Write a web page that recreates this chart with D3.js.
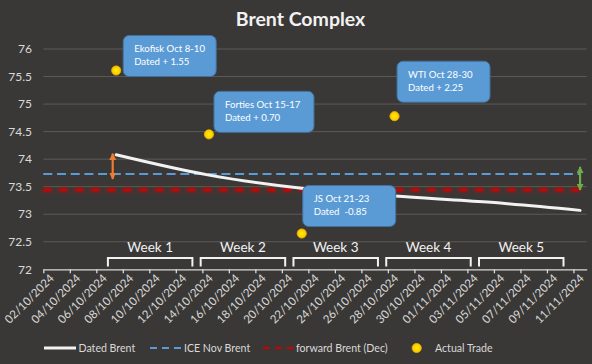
<!DOCTYPE html>
<html>
<head>
<meta charset="utf-8">
<script src="https://cdn.jsdelivr.net/npm/d3@7"></script>
<style>
  body { margin: 0; background: #3a3836; }
  svg text { font-family: Lato, "Liberation Sans", sans-serif; }
</style>
</head>
<body>
<div id="chart"></div>
<script>
// datos del grafico
var datedDates  = ["2024-10-07", "2024-10-14", "2024-10-21", "2024-10-28", "2024-11-04", "2024-11-11"];
var datedValues = [74.08, 73.71, 73.47, 73.33, 73.22, 73.07];

var iceNovBrent     = 73.73;
var forwardBrentDec = 73.44;

var tradeNames  = ["Ekofisk", "Forties", "JS", "WTI"];
var tradeDates  = ["2024-10-07", "2024-10-14", "2024-10-21", "2024-10-28"];
var tradeValues = [75.61, 74.45, 72.65, 74.78];
var tradeLine1  = ["Ekofisk Oct 8-10", "Forties Oct 15-17", "JS Oct 21-23", "WTI Oct 28-30"];
var tradeLine2  = ["Dated + 1.55", "Dated + 0.70", "Dated  -0.85", "Dated + 2.25"];

var weekLabels = ["Week 1", "Week 2", "Week 3", "Week 4", "Week 5"];
var weekStarts = ["2024-10-07", "2024-10-14", "2024-10-21", "2024-10-28", "2024-11-04"];

var yTicks = [72, 72.5, 73, 73.5, 74, 74.5, 75, 75.5, 76];

// spread arrows (date, from, to)
var arrowDates = ["2024-10-07", "2024-11-11"];
var arrowFrom  = [74.10, 73.86];
var arrowTo    = [73.64, 73.44];

var legendNames = ["Dated Brent", "ICE Nov Brent", "forward Brent (Dec)", "Actual Trade"];

var width = 592, height = 364;
var parse = d3.timeParse("%Y-%m-%d");
var noon = function(s){ return d3.timeHour.offset(parse(s), 12); };

var x = d3.scaleTime()
    .domain([parse("2024-10-02"), parse("2024-11-12")])
    .range([43.3, 586.7]);

var y = d3.scaleLinear()
    .domain([72, 76])
    .range([269.3, 49]);

var svg = d3.select("#chart").append("svg")
    .attr("width", width)
    .attr("height", height);

var defs = svg.append("defs");
var glow = defs.append("filter").attr("id", "glow")
    .attr("filterUnits", "userSpaceOnUse")
    .attr("x", 0).attr("y", 0).attr("width", width).attr("height", height);
glow.append("feGaussianBlur").attr("stdDeviation", 2).attr("result", "b");
var fm = glow.append("feMerge");
fm.append("feMergeNode").attr("in", "b");
fm.append("feMergeNode").attr("in", "SourceGraphic");

var grad = defs.append("radialGradient").attr("id", "dot");
grad.append("stop").attr("offset", "0%").attr("stop-color", "#fff200");
grad.append("stop").attr("offset", "100%").attr("stop-color", "#ffc000");

["#ed7d31", "#70ad47"].forEach(function(c, i){
  defs.append("marker").attr("id", "ah" + i)
    .attr("viewBox", "0 0 10 10").attr("refX", 9).attr("refY", 5)
    .attr("markerWidth", 3.2).attr("markerHeight", 3.2)
    .attr("orient", "auto-start-reverse")
    .append("path").attr("d", "M0,0L10,5L0,10z").attr("fill", c);
});

svg.append("rect").attr("width", width).attr("height", height).attr("fill", "#3a3836");

// titulo
svg.append("text")
    .attr("x", 300.5).attr("y", 25.5)
    .attr("text-anchor", "middle")
    .attr("fill", "#f2f2f2")
    .attr("font-size", 19.5).attr("font-weight", "bold")
    .text("Brent Complex");

// grid
svg.append("g").selectAll("line")
  .data(yTicks.filter(function(d){ return d > 72; }))
  .join("line")
    .attr("x1", x.range()[0]).attr("x2", x.range()[1])
    .attr("y1", d => y(d)).attr("y2", d => y(d))
    .attr("stroke", "#5c5a57").attr("stroke-width", 1);

// eje Y
svg.append("g").selectAll("text")
  .data(yTicks)
  .join("text")
    .attr("x", 32).attr("y", d => y(d))
    .attr("dy", "0.35em")
    .attr("text-anchor", "end")
    .attr("fill", "#d9d9d9")
    .attr("font-size", 12)
    .text(d => d);

// eje X
var xTicks = d3.timeDay.range(parse("2024-10-02"), parse("2024-11-12"), 2);
var ejeX = d3.axisBottom(x)
    .tickValues(xTicks)
    .tickSize(4)
    .tickSizeOuter(0)
    .tickFormat(d3.timeFormat("%d/%m/%Y"));

var gx = svg.append("g")
    .attr("transform", "translate(0," + y(72) + ")")
    .call(ejeX);
gx.select(".domain").attr("stroke", "#d9d9d9").attr("stroke-width", 1.3);
gx.selectAll(".tick line").attr("stroke", "#d9d9d9").attr("stroke-width", 1.3);
gx.selectAll(".tick text")
    .attr("fill", "#d9d9d9")
    .attr("font-size", 11.5)
    .attr("font-family", "Lato, 'Liberation Sans', sans-serif")
    .attr("text-anchor", "end")
    .attr("x", 0).attr("y", 0).attr("dy", "0.35em")
    .attr("transform", "translate(8,7) rotate(-45)");

// week brackets
var brackets = svg.append("g");
weekStarts.forEach(function(s, i){
  var d0 = parse(s);
  var x0 = x(d3.timeHour.offset(d0, -3));
  var x1 = x(d3.timeHour.offset(d0, 150));
  brackets.append("path")
    .attr("d", "M" + x0 + ",266.5V258H" + x1 + "V266.5")
    .attr("fill", "none").attr("stroke", "#f2f2f2").attr("stroke-width", 2);
  brackets.append("text")
    .attr("x", (x0 + x1) / 2).attr("y", 252)
    .attr("text-anchor", "middle")
    .attr("fill", "#f2f2f2").attr("font-size", 13.5)
    .text(weekLabels[i]);
});

// ICE Nov Brent
svg.append("line")
    .attr("x1", x.range()[0]).attr("x2", x(noon("2024-11-11")))
    .attr("y1", y(iceNovBrent)).attr("y2", y(iceNovBrent))
    .attr("stroke", "#5b9bd5").attr("stroke-width", 2)
    .attr("stroke-dasharray", "9,4.7");

// forward Brent (Dec)
svg.append("line")
    .attr("x1", x.range()[0]).attr("x2", x(noon("2024-11-11")))
    .attr("y1", y(forwardBrentDec)).attr("y2", y(forwardBrentDec))
    .attr("stroke", "#d00000").attr("stroke-width", 2.5)
    .attr("stroke-dasharray", "8,8")
    .attr("filter", "url(#glow)");

// Dated Brent
var line = d3.line()
    .x(function(d, i){ return x(noon(datedDates[i])); })
    .y(function(d){ return y(d); })
    .curve(d3.curveMonotoneX);

svg.append("path")
    .datum(datedValues)
    .attr("fill", "none")
    .attr("stroke", "#f2f2f2")
    .attr("stroke-width", 3)
    .attr("stroke-linecap", "round")
    .attr("d", line);

// flechas spread
arrowDates.forEach(function(s, i){
  var c = i === 0 ? "#ed7d31" : "#70ad47";
  var ax = x(noon(s)) - (i === 0 ? 3.5 : 0);
  svg.append("line")
    .attr("x1", ax).attr("x2", ax)
    .attr("y1", y(arrowFrom[i])).attr("y2", y(arrowTo[i]))
    .attr("stroke", c).attr("stroke-width", 2.2)
    .attr("marker-start", "url(#ah" + i + ")")
    .attr("marker-end", "url(#ah" + i + ")");
});

// actual trades
svg.append("g").selectAll("circle")
  .data(tradeValues)
  .join("circle")
    .attr("cx", (d, i) => x(noon(tradeDates[i])))
    .attr("cy", d => y(d))
    .attr("r", 4.6)
    .attr("fill", "url(#dot)")
    .attr("stroke", "#f0b400").attr("stroke-width", 0.8);

// callouts (offset desde el punto, ancho)
var calloutLayout = [[7, -35, 93], [5, -43, 100], [1, -48, 93], [2.5, -55, 93]];
tradeValues.forEach(function(v, i){
  var px = x(noon(tradeDates[i])), py = y(v);
  var L = calloutLayout[i];
  var g = svg.append("g").attr("transform", "translate(" + (px + L[0]) + "," + (py + L[1]) + ")");
  g.append("rect")
    .attr("width", L[2]).attr("height", 41)
    .attr("rx", 6)
    .attr("fill", "#5b9bd5")
    .attr("stroke", "#41719c").attr("stroke-width", 1);
  g.append("text").attr("x", 11).attr("y", 16.5)
    .attr("fill", "#ffffff").attr("font-size", 9.6)
    .text(tradeLine1[i]);
  g.append("text").attr("x", 11).attr("y", 29.5)
    .attr("fill", "#ffffff").attr("font-size", 9.6)
    .style("white-space", "pre")
    .text(tradeLine2[i]);
});

// leyenda
var ly = 348;
var leg = svg.append("g").attr("font-size", 10.6).attr("fill", "#d9d9d9");
leg.append("line").attr("x1", 44).attr("x2", 76).attr("y1", ly).attr("y2", ly)
   .attr("stroke", "#f2f2f2").attr("stroke-width", 3);
leg.append("text").attr("x", 78.5).attr("y", ly).attr("dy", "0.35em").text(legendNames[0]);
leg.append("line").attr("x1", 150).attr("x2", 181).attr("y1", ly).attr("y2", ly)
   .attr("stroke", "#5b9bd5").attr("stroke-width", 2).attr("stroke-dasharray", "7,5");
leg.append("text").attr("x", 184).attr("y", ly).attr("dy", "0.35em").text(legendNames[1]);
leg.append("line").attr("x1", 263).attr("x2", 294).attr("y1", ly).attr("y2", ly)
   .attr("stroke", "#d00000").attr("stroke-width", 2).attr("stroke-dasharray", "7,5");
leg.append("text").attr("x", 296).attr("y", ly).attr("dy", "0.35em").text(legendNames[2]);
leg.append("circle").attr("cx", 416.7).attr("cy", ly).attr("r", 4.6)
   .attr("fill", "url(#dot)").attr("stroke", "#f0b400").attr("stroke-width", 0.8);
leg.append("text").attr("x", 435).attr("y", ly).attr("dy", "0.35em").text(legendNames[3]);
</script>
</body>
</html>
